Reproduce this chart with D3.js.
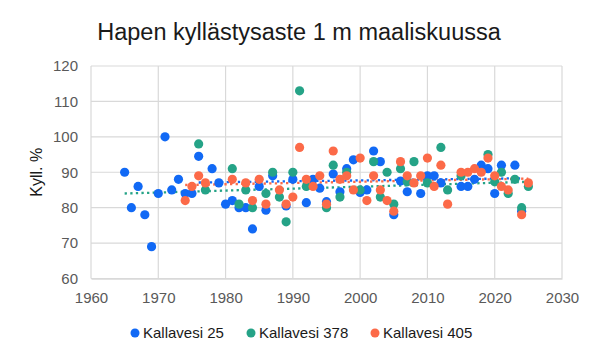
<!DOCTYPE html>
<html>
<head>
<meta charset="utf-8">
<script src="https://cdn.jsdelivr.net/npm/d3@7.9.0/dist/d3.min.js"></script>
<style>
  html, body { margin: 0; padding: 0; background: #fff; }
  svg { display: block; font-family: "Liberation Sans", Arial, sans-serif; }
</style>
</head>
<body>
<div id="chart"></div>
<script>
// series names
const seriesNames = ["Kallavesi 25", "Kallavesi 378", "Kallavesi 405"];

// Kallavesi 25: [year, value]
const kallavesi25 = [
  [1965, 90], [1966, 80], [1967, 86], [1968, 78], [1969, 69], [1970, 84],
  [1971, 100], [1972, 85], [1973, 88], [1974, 84], [1975, 84], [1976, 94.5],
  [1978, 91], [1979, 87], [1980, 81], [1981, 82], [1982, 80], [1983, 80],
  [1984, 74], [1985, 86], [1986, 79.3], [1987, 89], [1989, 80.5], [1990, 88],
  [1992, 81.4], [1993, 88], [1994, 85.5], [1995, 81.7], [1996, 89.5], [1997, 84.5],
  [1998, 91], [1999, 93.5], [2000, 84.3], [2001, 85], [2002, 96], [2003, 93],
  [2005, 78], [2006, 87.5], [2007, 84.5], [2009, 84], [2010, 89], [2011, 89],
  [2012, 87], [2015, 86], [2016, 86], [2017, 88], [2018, 92], [2019, 91],
  [2020, 84], [2021, 92], [2023, 92], [2024, 79]
];

// Kallavesi 378
const kallavesi378 = [
  [1976, 98], [1977, 85], [1981, 91], [1982, 81], [1983, 85], [1984, 80],
  [1986, 84], [1987, 90], [1988, 83], [1989, 76], [1990, 90], [1991, 113],
  [1992, 86], [1995, 80], [1996, 92], [1997, 83], [1998, 90], [2000, 85],
  [2002, 93], [2003, 83], [2004, 90], [2005, 81], [2006, 91], [2007, 87.3],
  [2008, 93], [2010, 87], [2012, 97], [2013, 85], [2015, 89], [2019, 95],
  [2020, 87.3], [2021, 90], [2022, 84], [2023, 88], [2024, 80], [2025, 86]
];

// Kallavesi 405
const kallavesi405 = [
  [1974, 82], [1975, 86], [1976, 89], [1977, 87], [1981, 88], [1983, 87],
  [1984, 82], [1985, 88], [1986, 81], [1988, 85], [1989, 81], [1990, 83],
  [1991, 97], [1992, 88], [1993, 86], [1994, 89], [1995, 81], [1996, 96],
  [1997, 88], [1998, 89], [1999, 85], [2000, 94], [2001, 82], [2002, 89],
  [2003, 85], [2004, 82], [2005, 79], [2006, 93], [2007, 89], [2008, 87],
  [2009, 89], [2010, 94], [2011, 86], [2012, 92], [2013, 81], [2015, 90],
  [2016, 90], [2017, 91], [2018, 90], [2019, 94], [2020, 89], [2021, 86],
  [2022, 85], [2024, 78], [2025, 87]
];

// dotted trend lines: [[year, value], [year, value]]
const trend25 = [[1976, 87.1], [2024, 88.3]];
const trend378 = [[1965, 84.0], [2025, 87.3]];
const trend405 = [[1974, 86.4], [2025, 88.2]];

// axis ticks
const xTicks = [1960, 1970, 1980, 1990, 2000, 2010, 2020, 2030];
const yTicks = [60, 70, 80, 90, 100, 110, 120];

const colors = ["#1169f5", "#25a387", "#fc6a48"];

const width = 600;
const height = 364;
const area = { left: 91, right: 562, top: 66, bottom: 278.5 };

const svg = d3.select("#chart")
  .append("svg")
  .attr("width", width)
  .attr("height", height);

const x = d3.scaleLinear().domain([1960, 2030]).range([area.left, area.right]);
const y = d3.scaleLinear().domain([60, 120]).range([area.bottom, area.top]);

// title
svg.append("text")
  .attr("x", 299)
  .attr("y", 40)
  .attr("text-anchor", "middle")
  .attr("font-size", 23.5)
  .attr("fill", "#1a1a1a")
  .text("Hapen kyllästysaste 1 m maaliskuussa");

// gridlines
svg.append("g")
  .attr("class", "grid-y")
  .selectAll("line")
  .data(yTicks)
  .join("line")
  .attr("x1", area.left)
  .attr("x2", area.right)
  .attr("y1", d => y(d))
  .attr("y2", d => y(d))
  .attr("stroke", "#d9d9d9")
  .attr("stroke-width", 1.2);

svg.append("g")
  .attr("class", "grid-x")
  .selectAll("line")
  .data(xTicks)
  .join("line")
  .attr("x1", d => x(d))
  .attr("x2", d => x(d))
  .attr("y1", area.top)
  .attr("y2", area.bottom)
  .attr("stroke", "#d9d9d9")
  .attr("stroke-width", 1.2);

// axes (labels only)
const xAxis = svg.append("g")
  .attr("transform", `translate(0, ${area.bottom})`)
  .call(d3.axisBottom(x).tickValues(xTicks).tickFormat(d3.format("d")).tickSize(0).tickPadding(14));
xAxis.select(".domain").attr("stroke", "#d9d9d9").attr("stroke-width", 1.5);
xAxis.selectAll("text").attr("font-size", 15).attr("fill", "#595959")
  .attr("font-family", "Liberation Sans, Arial, sans-serif");

const yAxis = svg.append("g")
  .attr("transform", `translate(${area.left}, 0)`)
  .call(d3.axisLeft(y).tickValues(yTicks).tickSize(0).tickPadding(13));
yAxis.select(".domain").remove();
yAxis.selectAll("text").attr("font-size", 15).attr("fill", "#595959")
  .attr("font-family", "Liberation Sans, Arial, sans-serif");

// y label
svg.append("text")
  .attr("transform", `translate(42, ${(area.top + area.bottom) / 2}) rotate(-90)`)
  .attr("text-anchor", "middle")
  .attr("font-size", 16)
  .attr("fill", "#1a1a1a")
  .text("Kyll. %");

// trend lines (under the dots)
const line = d3.line().x(d => x(d[0])).y(d => y(d[1]));
[trend25, trend378, trend405].forEach((t, i) => {
  svg.append("path")
    .datum(t)
    .attr("d", line)
    .attr("fill", "none")
    .attr("stroke", colors[i])
    .attr("stroke-width", 2.3)
    .attr("stroke-dasharray", "2.3 3.3");
});

// dots
[kallavesi25, kallavesi378, kallavesi405].forEach((series, i) => {
  svg.append("g")
    .selectAll("circle")
    .data(series)
    .join("circle")
    .attr("cx", d => x(d[0]))
    .attr("cy", d => y(d[1]))
    .attr("r", 4.6)
    .attr("fill", colors[i]);
});

// legend
const legendX = [135, 251, 375];
const legend = svg.append("g")
  .selectAll("g")
  .data(seriesNames)
  .join("g")
  .attr("transform", (d, i) => `translate(${legendX[i]}, 333)`);

legend.append("circle")
  .attr("r", 4.5)
  .attr("fill", (d, i) => colors[i]);

legend.append("text")
  .attr("x", 8)
  .attr("dy", "0.35em")
  .attr("font-size", 15)
  .attr("fill", "#1a1a1a")
  .text(d => d);
</script>
</body>
</html>
